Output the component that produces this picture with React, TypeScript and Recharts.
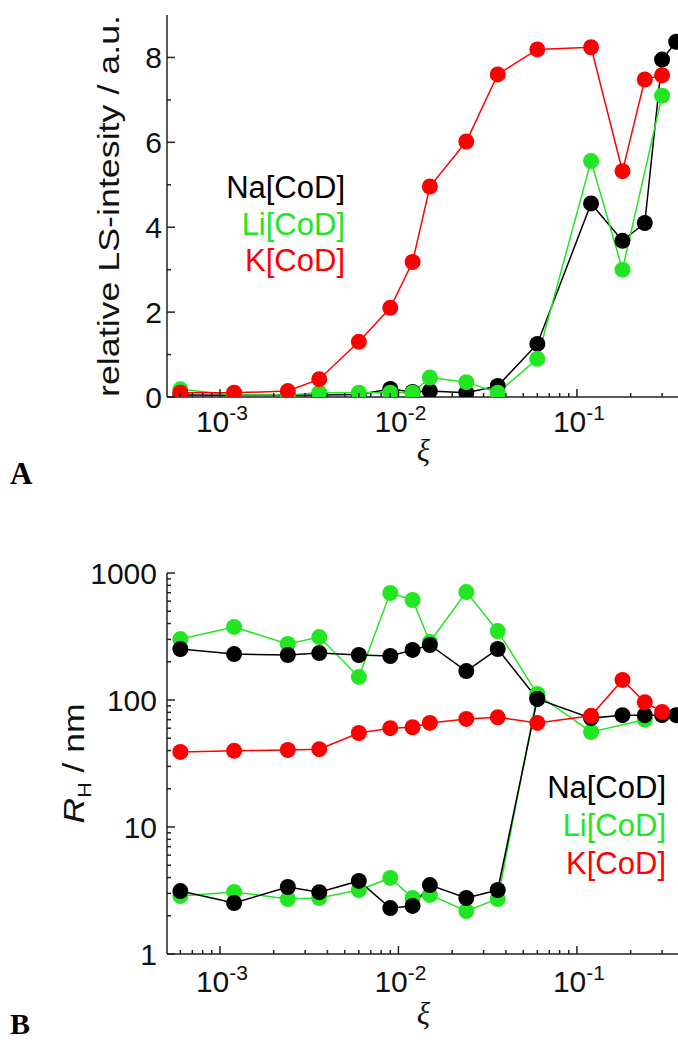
import React from "react";
import { LineChart, Line, XAxis, YAxis, Label } from "recharts";

// molar ratio xi, shared by both panels
const xi = [0.0006, 0.0012, 0.0024, 0.0036, 0.006, 0.009, 0.012, 0.015, 0.024, 0.036, 0.06, 0.12, 0.18, 0.24, 0.3, 0.36];

// panel A: relative LS intensity
const lsNa = [0.05, 0.04, 0.04, 0.05, 0.06, 0.19, 0.12, 0.14, 0.1, 0.26, 1.25, 4.56, 3.68, 4.1, 7.95, 8.37];
const lsLi = [0.18, 0.05, 0.05, 0.1, 0.1, 0.1, 0.1, 0.46, 0.35, 0.1, 0.9, 5.56, 3.0, null, 7.1, null];
const lsK = [0.1, 0.1, 0.14, 0.42, 1.3, 2.1, 3.18, 4.96, 6.02, 7.6, 8.19, 8.24, 5.32, 7.48, 7.58, null];

// panel B: hydrodynamic radius (nm), two populations for Na and Li
const rhNaUpper = [252, 230, 226, 234, 226, 222, 248, 271, 169, 252, 102, 72, 76, 76, 76, 76];
const rhNaLower = [3.13, 2.52, 3.37, 3.07, 3.76, 2.3, 2.39, 3.49, 2.76, 3.19, 102];
const rhLiUpper = [302, 376, 276, 313, 152, 696, 613, 286, 708, 349, 111, 56, null, 70, null, null];
const rhLiLower = [2.86, 3.08, 2.71, 2.76, 3.19, 3.97, 2.76, 2.92, 2.18, 2.71, 111];
const rhK = [39, 39.8, 40.4, 41, 55, 60, 61, 66, 71, 73, 66, 75, 144, 96, 80.5, null];

const xMajor = [0.001, 0.01, 0.1];
const xMinor = [
  0.0006, 0.0007, 0.0008, 0.0009,
  0.002, 0.003, 0.004, 0.005, 0.006, 0.007, 0.008, 0.009,
  0.02, 0.03, 0.04, 0.05, 0.06, 0.07, 0.08, 0.09,
  0.2, 0.3,
];
const yMajorA = [0, 2, 4, 6, 8];
const yMinorA = [1, 3, 5, 7];
const yMajorB = [1, 10, 100, 1000];
const yMinorB = [2, 3, 4, 5, 6, 7, 8, 9, 20, 30, 40, 50, 60, 70, 80, 90, 200, 300, 400, 500, 600, 700, 800, 900];

const names = ["Na[CoD]", "Li[CoD]", "K[CoD]"];
const colors = ["#000000", "#22e622", "#ff0000"];

const FONT = '"Liberation Sans", Arial, sans-serif';
const SERIF = '"Liberation Serif", "Times New Roman", serif';
const AXIS = "#222";

const xDomain = [0.000505, 0.378];

function points(values: (number | null)[]) {
  return values.map((v, i) => ({ x: xi[i], y: v })).filter((p) => p.y != null);
}

function isMajor(v: number, majors: number[]) {
  return majors.some((m) => Math.abs(v - m) <= 1e-9 * Math.max(1, Math.abs(m)));
}

const bottomTick = (labelDy: number) => (props: any) => {
  const { x, y, payload } = props;
  const major = isMajor(payload.value, xMajor);
  const exp = Math.round(Math.log10(payload.value));
  return (
    <g>
      <line x1={x} y1={y} x2={x} y2={y - (major ? 8 : 4)} stroke={AXIS} strokeWidth={1.5} />
      {major && (
        <text x={x + 2} y={y + labelDy} textAnchor="middle" fontSize={30} fontFamily={FONT} fill="#111">
          <tspan>10</tspan>
          <tspan dy={-12} fontSize={21}>{String(exp)}</tspan>
        </text>
      )}
    </g>
  );
};

const topTick = (props: any) => {
  const { x, y, payload } = props;
  const major = isMajor(payload.value, xMajor);
  return <line x1={x} y1={y} x2={x} y2={y + (major ? 8 : 4)} stroke={AXIS} strokeWidth={1.5} />;
};

const leftTick = (majors: number[], gap: number) => (props: any) => {
  const { x, y, payload } = props;
  const major = isMajor(payload.value, majors);
  return (
    <g>
      <line x1={x} y1={y} x2={x + (major ? 8 : 4)} y2={y} stroke={AXIS} strokeWidth={1.5} />
      {major && (
        <text x={x - gap} y={y} dy="0.36em" textAnchor="end" fontSize={30} fontFamily={FONT} fill="#111">
          {payload.value}
        </text>
      )}
    </g>
  );
};

const rightTick = (majors: number[]) => (props: any) => {
  const { x, y, payload } = props;
  const major = isMajor(payload.value, majors);
  return <line x1={x} y1={y} x2={x - (major ? 8 : 4)} y2={y} stroke={AXIS} strokeWidth={1.5} />;
};

const xiLabel = (dy: number) => (props: any) => {
  const vb = props.viewBox;
  return (
    <text x={vb.x + vb.width / 2} y={vb.y + dy} textAnchor="middle" fontSize={31} fontStyle="italic" fontFamily={SERIF} fill="#111">
      ξ
    </text>
  );
};

const lsLabel = (props: any) => {
  const vb = props.viewBox;
  const cx = 119;
  const cy = vb.y + vb.height / 2;
  return (
    <text x={cx} y={cy} transform={`rotate(-90, ${cx}, ${cy})`} textAnchor="middle" fontSize={30} fontFamily={FONT} fill="#111" textLength={382} lengthAdjust="spacingAndGlyphs">
      relative LS-intesity / a.u.
    </text>
  );
};

const rhLabel = (props: any) => {
  const vb = props.viewBox;
  const cx = 84;
  const cy = vb.y + vb.height / 2;
  return (
    <text x={cx} y={cy} transform={`rotate(-90, ${cx}, ${cy})`} textAnchor="middle" fontSize={30} fontFamily={FONT} fill="#111" textLength={120} lengthAdjust="spacingAndGlyphs">
      <tspan fontStyle="italic">R</tspan>
      <tspan dy={7} fontSize={18}>H</tspan>
      <tspan dy={-7}> / nm</tspan>
    </text>
  );
};

const axisLine = { stroke: AXIS, strokeWidth: 1.5 };
const dotStyle = (c: string) => ({ r: 8, fill: c, stroke: c, strokeWidth: 0 });

export default function App() {
  const xTicks = [...xMajor, ...xMinor];
  return (
    <div style={{ position: "absolute", left: 0, top: 0, width: 678, height: 1043, overflow: "hidden", background: "#fff" }}>
      <div style={{ position: "absolute", left: 0, top: 0 }}>
        <LineChart width={690} height={480} margin={{ top: 15, right: 10, bottom: 0, left: 0 }}>
          <XAxis xAxisId="b" dataKey="x" type="number" scale="log" domain={xDomain} allowDataOverflow ticks={xTicks} interval={0} tickSize={0} tickMargin={0} tickLine={false} axisLine={axisLine} tick={bottomTick(35)} height={83}>
            <Label content={xiLabel(64)} />
          </XAxis>
          <XAxis xAxisId="t" orientation="top" dataKey="x" type="number" scale="log" domain={xDomain} allowDataOverflow ticks={xTicks} interval={0} tickSize={0} tickMargin={0} tickLine={false} axisLine={axisLine} tick={topTick} height={0} />
          <YAxis yAxisId="l" type="number" domain={[0, 9]} allowDataOverflow ticks={[...yMajorA, ...yMinorA]} interval={0} tickSize={0} tickMargin={0} tickLine={false} axisLine={axisLine} tick={leftTick(yMajorA, 5)} width={167}>
            <Label content={lsLabel} />
          </YAxis>
          <YAxis yAxisId="r" orientation="right" type="number" domain={[0, 9]} allowDataOverflow ticks={[...yMajorA, ...yMinorA]} interval={0} tickSize={0} tickMargin={0} tickLine={false} axisLine={axisLine} tick={rightTick(yMajorA)} width={0} />
          <Line xAxisId="b" yAxisId="l" data={points(lsNa)} dataKey="y" stroke={colors[0]} strokeWidth={1.5} dot={dotStyle(colors[0])} activeDot={false} isAnimationActive={false} />
          <Line xAxisId="b" yAxisId="l" data={points(lsLi)} dataKey="y" stroke={colors[1]} strokeWidth={1.5} dot={dotStyle(colors[1])} activeDot={false} isAnimationActive={false} />
          <Line xAxisId="b" yAxisId="l" data={points(lsK)} dataKey="y" stroke={colors[2]} strokeWidth={1.5} dot={dotStyle(colors[2])} activeDot={false} isAnimationActive={false} />
        </LineChart>
      </div>
      <div style={{ position: "absolute", left: 0, top: 540 }}>
        <LineChart width={690} height={503} margin={{ top: 33, right: 10, bottom: 0, left: 0 }}>
          <XAxis xAxisId="b" dataKey="x" type="number" scale="log" domain={xDomain} allowDataOverflow ticks={xTicks} interval={0} tickSize={0} tickMargin={0} tickLine={false} axisLine={axisLine} tick={bottomTick(38)} height={89}>
            <Label content={xiLabel(70)} />
          </XAxis>
          <XAxis xAxisId="t" orientation="top" dataKey="x" type="number" scale="log" domain={xDomain} allowDataOverflow ticks={xTicks} interval={0} tickSize={0} tickMargin={0} tickLine={false} axisLine={axisLine} tick={topTick} height={0} />
          <YAxis yAxisId="l" type="number" scale="log" domain={[1, 1000]} allowDataOverflow ticks={[...yMajorB, ...yMinorB]} interval={0} tickSize={0} tickMargin={0} tickLine={false} axisLine={axisLine} tick={leftTick(yMajorB, 10)} width={167}>
            <Label content={rhLabel} />
          </YAxis>
          <YAxis yAxisId="r" orientation="right" type="number" scale="log" domain={[1, 1000]} allowDataOverflow ticks={[...yMajorB, ...yMinorB]} interval={0} tickSize={0} tickMargin={0} tickLine={false} axisLine={axisLine} tick={rightTick(yMajorB)} width={0} />
          <Line xAxisId="b" yAxisId="l" data={points(rhLiUpper)} dataKey="y" stroke={colors[1]} strokeWidth={1.5} dot={dotStyle(colors[1])} activeDot={false} isAnimationActive={false} />
          <Line xAxisId="b" yAxisId="l" data={points(rhLiLower)} dataKey="y" stroke={colors[1]} strokeWidth={1.5} dot={dotStyle(colors[1])} activeDot={false} isAnimationActive={false} />
          <Line xAxisId="b" yAxisId="l" data={points(rhNaUpper)} dataKey="y" stroke={colors[0]} strokeWidth={1.5} dot={dotStyle(colors[0])} activeDot={false} isAnimationActive={false} />
          <Line xAxisId="b" yAxisId="l" data={points(rhNaLower)} dataKey="y" stroke={colors[0]} strokeWidth={1.5} dot={dotStyle(colors[0])} activeDot={false} isAnimationActive={false} />
          <Line xAxisId="b" yAxisId="l" data={points(rhK)} dataKey="y" stroke={colors[2]} strokeWidth={1.5} dot={dotStyle(colors[2])} activeDot={false} isAnimationActive={false} />
        </LineChart>
      </div>
      <svg width={678} height={1043} style={{ position: "absolute", left: 0, top: 0, pointerEvents: "none" }}>
        {names.map((n, i) => (
          <text key={"a" + n} x={345} y={198 + i * 36.5} textAnchor="end" fontSize={31} fontFamily={FONT} fill={colors[i]}>
            {n}
          </text>
        ))}
        {names.map((n, i) => (
          <text key={"b" + n} x={666} y={798 + i * 38} textAnchor="end" fontSize={31} fontFamily={FONT} fill={colors[i]}>
            {n}
          </text>
        ))}
        <text x={10} y={484} fontSize={31} fontWeight="bold" fontFamily={SERIF} fill="#000">A</text>
        <text x={10} y={1034} fontSize={30} fontWeight="bold" fontFamily={SERIF} fill="#000">B</text>
      </svg>
    </div>
  );
}
